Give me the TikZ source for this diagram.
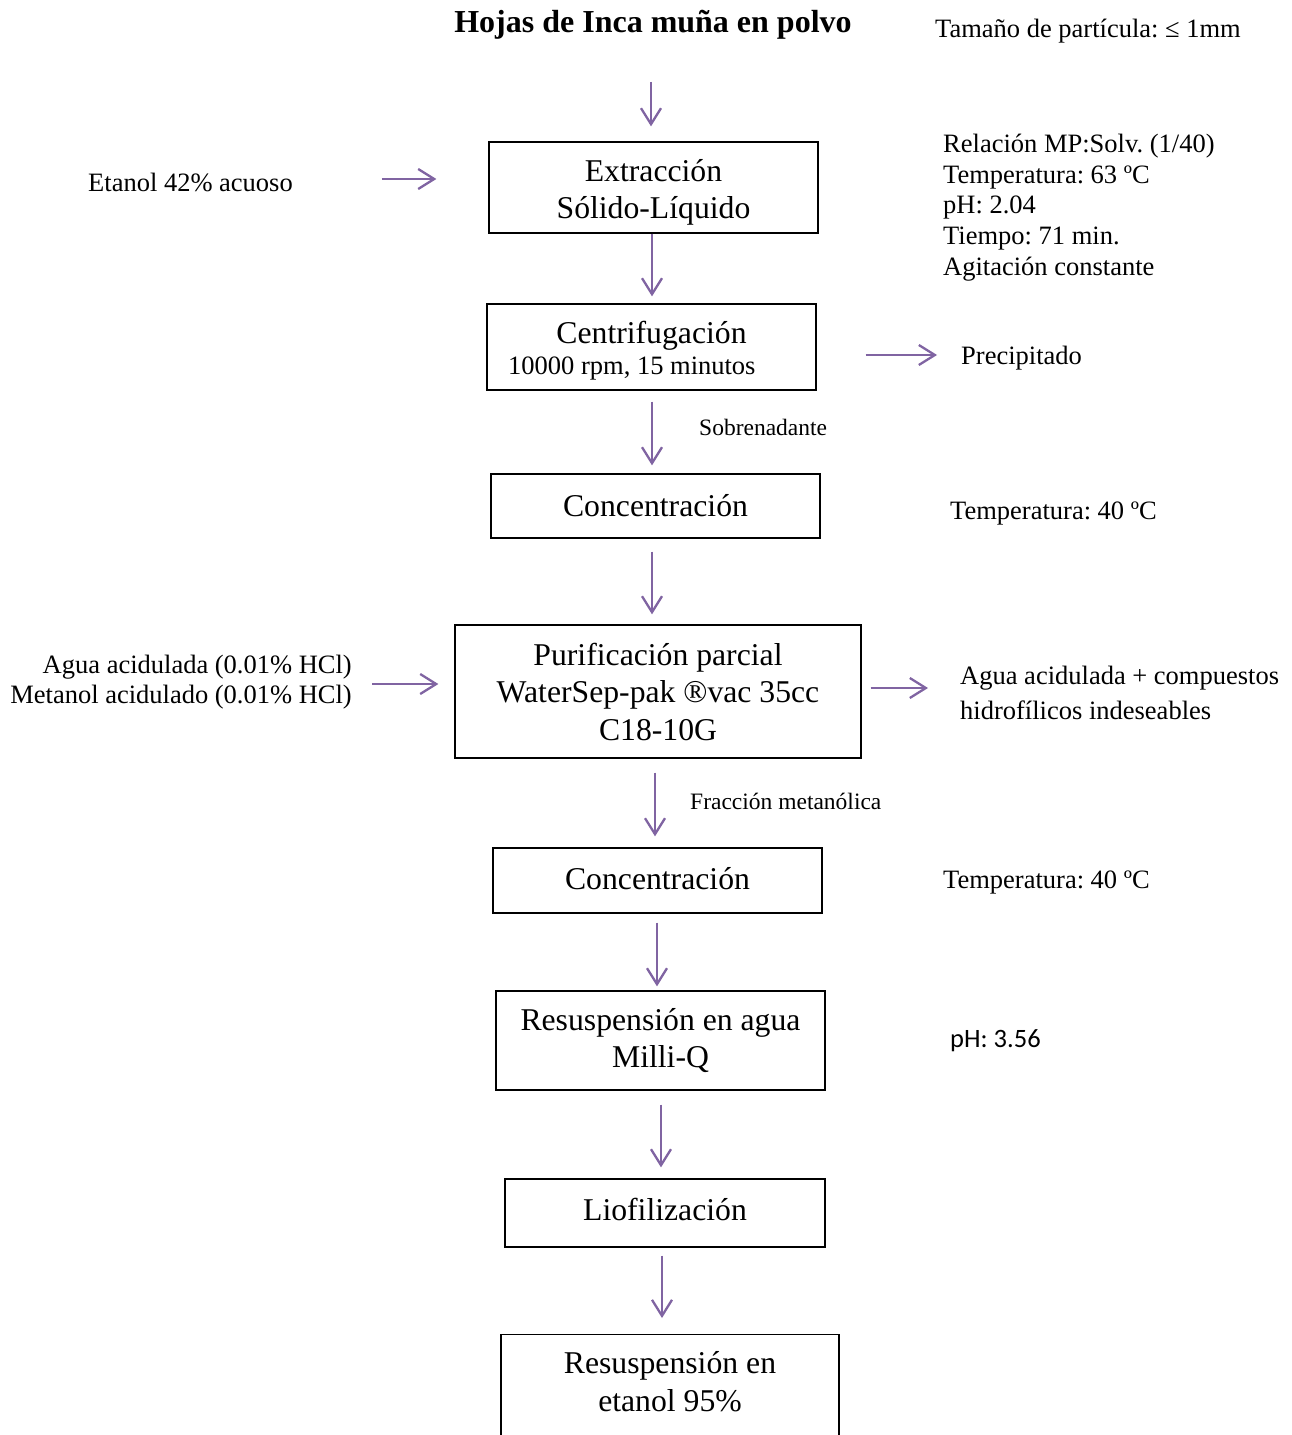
\documentclass[tikz,border=0pt]{standalone}
\usepackage{fontspec}
\setmainfont{Liberation Serif}
\newfontfamily\calibf{Carlito}
\usetikzlibrary{arrows.meta}
\definecolor{arrpurple}{HTML}{8064A2}
\frenchspacing
\newcommand\bxf{\fontsize{31.7}{37.5}\selectfont}
\newcommand\sdf{\fontsize{26.5}{30.75}\selectfont}
\newcommand\hdf{\fontsize{26.5}{35}\selectfont}
\newcommand\lbf{\fontsize{23.5}{28}\selectfont}
\newcommand\ttlf{\fontsize{32}{36}\selectfont}
\tikzset{
  arr/.style={draw=arrpurple, line width=2.3pt, -{Straight Barb[length=16pt,width=20pt,line width=2.3pt]}},
  box/.style={draw=black, line width=1.3pt, align=center, inner sep=0pt, font=\bxf},
  btext/.style={inner sep=0pt, align=center, font=\bxf},
  side/.style={anchor=west, inner sep=0pt, align=left, font=\sdf},
  lbl/.style={anchor=west, inner sep=0pt, font=\lbf},
}
\begin{document}
\begin{tikzpicture}[x=1pt,y=-1pt]
\useasboundingbox[fill=white] (0,0) rectangle (1291,1435);
\clip (0,0) rectangle (1291,1435);

% title and side notes
\node[inner sep=0pt, font=\bfseries\ttlf] (title) at (653,25) {Hojas de Inca muña en polvo};
\node[side] (tam) at (935,31) {Tamaño de partícula: ≤ 1mm};

% boxes
\node[box, minimum width=329, minimum height=91] (b1) at (653.5,187.5) {};
\node[btext] (t1) at (653.5,192.5) {Extracción\\Sólido-Líquido};
\node[box, minimum width=329, minimum height=86] (b2) at (651.5,347) {};
\node[btext] (t2a) at (651.5,336) {Centrifugación};
\node[inner sep=0pt, font=\sdf, anchor=west] (t2b) at (508,369) {10000 rpm, 15 minutos};
\node[box, minimum width=329, minimum height=64] (b3) at (655.5,506) {Concentración};
\node[box, minimum width=406, minimum height=133] (b4) at (658,691.5) {Purificación parcial\\WaterSep-pak ®vac 35cc\\C18-10G};
\node[box, minimum width=329, minimum height=65] (b5) at (657.5,880.5) {};
\node[btext] (t5) at (657.5,878.5) {Concentración};
\node[box, minimum width=329, minimum height=99] (b6) at (660.5,1040.5) {Resuspensión en agua\\Milli-Q};
\node[box, minimum width=320, minimum height=68] (b7) at (665,1213) {};
\node[btext] (t7) at (665,1209) {Liofilización};
\node[box, minimum width=338, minimum height=140, anchor=north] (b8) at (670,1334) {};
\node[btext] (t8) at (670,1381.5) {Resuspensión en\\etanol 95\%};

% side texts
\node[side] (cond1) at (943,207.5) {Relación MP:Solv. (1/40)\\Temperatura: 63 ºC\\pH: 2.04\\Tiempo: 71 min.\\Agitación constante};
\node[side] (et) at (88,182) {Etanol 42\% acuoso};
\node[side] (prec) at (961,358) {Precipitado};
\node[lbl] (sobre) at (699,427) {Sobrenadante};
\node[side] (temp1) at (950,514) {Temperatura: 40 ºC};
\node[side, anchor=east, align=right] (ag) at (352,682) {Agua acidulada (0.01\% HCl)\\Metanol acidulado (0.01\% HCl)};
\node[side, font=\hdf] (hid) at (960,692.5) {Agua acidulada + compuestos\\hidrofílicos indeseables};
\node[lbl] (frac) at (690,801) {Fracción metanólica};
\node[side] (temp2) at (943,882) {Temperatura: 40 ºC};
\node[side, font=\calibf\sdf] (ph) at (950,1041) {pH: 3.56};

% vertical arrows
\draw[arr, shorten <=42pt, shorten >=15pt] ([xshift=-2pt]title.south) -- ([xshift=-2pt]title.south |- b1.north);
\draw[arr, shorten >=7pt] ([xshift=-1.5pt]b1.south) -- ([xshift=-1.5pt]b1.south |- b2.north);
\draw[arr, shorten <=11pt, shorten >=8pt] ([xshift=0.5pt]b2.south) -- ([xshift=0.5pt]b2.south |- b3.north);
\draw[arr, shorten <=13pt, shorten >=10pt] ([xshift=-3.5pt]b3.south) -- ([xshift=-3.5pt]b3.south |- b4.north);
\draw[arr, shorten <=14pt, shorten >=11pt] ([xshift=-3pt]b4.south) -- ([xshift=-3pt]b4.south |- b5.north);
\draw[arr, shorten <=9pt, shorten >=4pt] ([xshift=-0.5pt]b5.south) -- ([xshift=-0.5pt]b5.south |- b6.north);
\draw[arr, shorten <=14pt, shorten >=11pt] ([xshift=0.5pt]b6.south) -- ([xshift=0.5pt]b6.south |- b7.north);
\draw[arr, shorten <=8pt, shorten >=16pt] ([xshift=-3pt]b7.south) -- ([xshift=-3pt]b7.south |- b8.north);

% horizontal arrows
\draw[arr, shorten <=89pt, shorten >=52pt] ([yshift=3pt]et.east) -- ([yshift=3pt]et.east -| b1.west);
\draw[arr, shorten <=49pt, shorten >=24pt] ([yshift=3pt]b2.east |- prec.west) -- ([yshift=3pt]prec.west);
\draw[arr, shorten <=20pt, shorten >=16pt] ([yshift=-2pt]ag.east) -- ([yshift=-2pt]ag.east -| b4.west);
\draw[arr, shorten <=9pt, shorten >=32pt] ([yshift=3.5pt]b4.east) -- ([yshift=3.5pt]b4.east -| hid.west);
\end{tikzpicture}
\end{document}
